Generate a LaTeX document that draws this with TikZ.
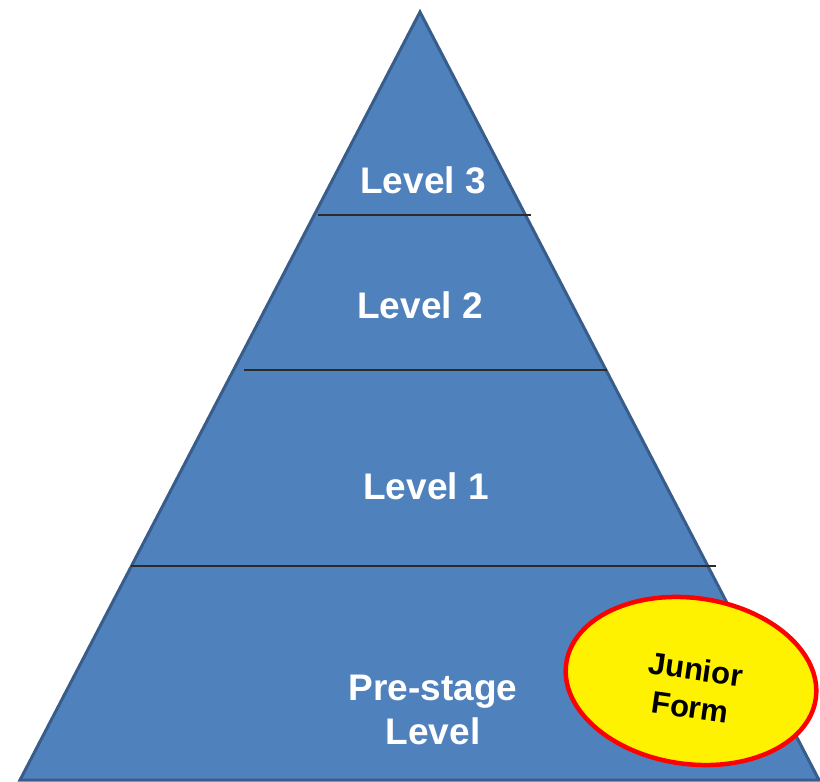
\documentclass[tikz,border=0pt]{standalone}
\usepackage{fontspec}
\setmainfont{Liberation Sans}
\usetikzlibrary{shapes.geometric}

\definecolor{pyrfill}{HTML}{4F81BD}
\definecolor{pyrdraw}{HTML}{385D8A}
\definecolor{divline}{HTML}{2B2B2B}

\begin{document}
\begin{tikzpicture}[x=1pt,y=-1pt,
level/.style={text=white, font=\fontsize{37}{44}\selectfont\bfseries, align=center, inner sep=0pt},
badge/.style={ellipse, draw=red, line width=4.5pt, fill=yellow, minimum width=252pt, minimum height=166pt, inner sep=0pt, outer sep=0pt, rotate=-8},
badgetext/.style={rotate=-8, font=\fontsize{31}{38}\selectfont\bfseries, align=center, inner sep=0pt},
divider/.style={draw=divline, line width=1.6pt},
]
\useasboundingbox (0,0) rectangle (820,782);

%Pyramid
\coordinate (top)   at (420,12);
\coordinate (left)  at (20,780);
\coordinate (right) at (819,780);
\filldraw[fill=pyrfill, draw=pyrdraw, line width=3pt] (top) -- (left) -- (right) -- cycle;

%Lines
\draw[divider] (318,215) -- (531,215);
\draw[divider] (244,370) -- (607,370);
\draw[divider] (131,566) -- (716,566);

%Nodes
\node[level]     (lvl3)       at (423,180)  {Level 3};
\node[level]     (lvl2)       at (420,305)  {Level 2};
\node[level]     (lvl1)       at (426,486)  {Level 1};
\node[level]     (lvl0)       at (433,710)  {Pre-stage\\Level};
\node[badge]     (junior)     at (691,681)  {};
\node[badgetext] (juniortext) at (693,688)  {Junior\\Form};
\end{tikzpicture}
\end{document}
